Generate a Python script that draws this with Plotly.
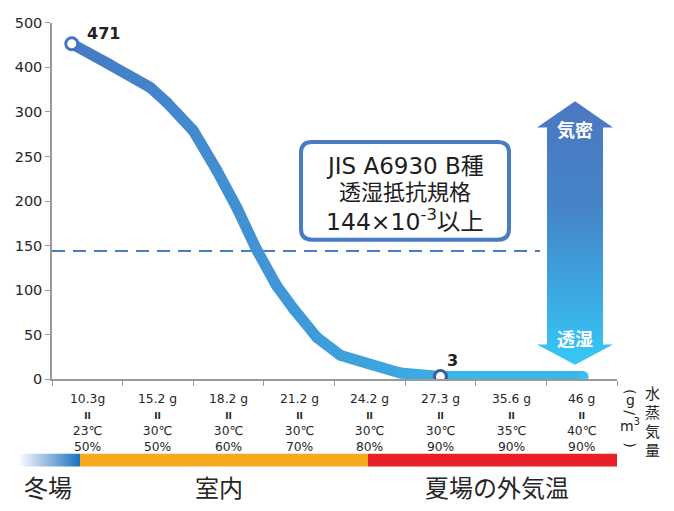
import plotly.graph_objects as go

W, H = 674, 511
OFF = 8  # page body margin: figure is drawn 8px right/down in the photo

# ---------------- data ----------------
cat_gram = ["10.3g", "15.2 g", "18.2 g", "21.2 g", "24.2 g", "27.3 g", "35.6 g", "46 g"]
cat_temp = ["23℃", "30℃", "30℃", "30℃", "30℃", "30℃", "35℃", "40℃"]
cat_rh = ["50%", "50%", "60%", "70%", "80%", "90%", "90%", "90%"]

# curve (x in category units, y = resistance value)
curve_x = [-0.22, 0.32, 0.89, 1.12, 1.50, 1.83, 2.12, 2.40, 2.68, 2.92, 3.25, 3.58, 3.96, 4.43, 5.0, 7.02]
curve_y = [453, 406, 355, 322, 279, 235, 192, 145, 105, 79, 47, 27, 18, 7, 3, 3]

peak_label = "471"
low_label = "3"
standard_value = 144

ytick_labels = [0, 50, 100, 150, 200, 250, 300, 400, 500]

box_lines = ["JIS A6930 B種", "透湿抵抗規格", "144×10<sup>-3</sup>以上"]
arrow_labels = ["気密", "透湿"]
zone_labels = ["冬場", "室内", "夏場の外気温"]
unit_label = ["水", "蒸", "気", "量"]

LAT = "DejaVu Sans, Noto Sans CJK JP, sans-serif"
CJK = "Noto Sans CJK JP, sans-serif"
TXT = "#262626"


def ypos(v):
    # broken scale: linear to 300, half scale above
    return v if v <= 300 else 300 + (v - 300) / 2


def X(px):
    return px - OFF


def Y(py):
    return H - (py - OFF)


def lerp_col(t, c0=(70, 122, 195), c1=(55, 193, 240)):
    return "rgb(%d,%d,%d)" % tuple(round(a + (b - a) * t) for a, b in zip(c0, c1))


fig = go.Figure()

# ---------------- curve (gradient segments) ----------------
x0, xn = curve_x[0], curve_x[-1]
ts = [(x - x0) / (xn - x0) for x in curve_x]
for i in range(len(curve_x) - 1):
    fig.add_trace(go.Scatter(
        x=[curve_x[i], curve_x[i + 1]],
        y=[ypos(curve_y[i]), ypos(curve_y[i + 1])],
        mode="lines", line=dict(color=lerp_col((ts[i] + ts[i + 1]) / 2), width=11),
        hoverinfo="skip", showlegend=False))
fig.add_trace(go.Scatter(
    x=curve_x, y=[ypos(v) for v in curve_y], mode="markers",
    marker=dict(size=11, color=[lerp_col(t) for t in ts], line=dict(width=0)),
    hoverinfo="skip", showlegend=False))

# highlighted points
fig.add_trace(go.Scatter(
    x=[curve_x[0]], y=[ypos(curve_y[0])], mode="markers",
    marker=dict(size=12, color="white", line=dict(color="#4274c0", width=3)),
    hoverinfo="skip", showlegend=False))
i3 = curve_x.index(5.0)
fig.add_trace(go.Scatter(
    x=[curve_x[i3]], y=[ypos(curve_y[i3])], mode="markers",
    marker=dict(size=12, color="white", line=dict(color="#3d5c9e", width=3)),
    hoverinfo="skip", showlegend=False))

annotations = [
    dict(x=curve_x[0], y=ypos(curve_y[0]), xref="x", yref="y", text=peak_label,
         showarrow=False, xshift=32, yshift=10,
         font=dict(size=16, color="#222", family=LAT, weight="bold")),
    dict(x=curve_x[i3], y=ypos(curve_y[i3]), xref="x", yref="y", text=low_label,
         showarrow=False, xshift=12, yshift=16,
         font=dict(size=16, color="#222", family=LAT, weight="bold")),
]

# ---------------- decoration layer (pixel axes x2/y2) ----------------
# double arrow
arrow_px = [(575, 96), (613, 123), (603, 123), (603, 347), (613, 347), (575, 368),
            (537, 347), (547, 347), (547, 123), (537, 123), (575, 96)]
fig.add_trace(go.Scatter(
    x=[X(p[0]) for p in arrow_px], y=[Y(p[1]) for p in arrow_px],
    xaxis="x2", yaxis="y2", mode="lines", line=dict(width=0), fill="toself",
    fillgradient=dict(type="vertical",
                      colorscale=[[0, "#36c8f6"], [0.3, "#3ca5df"], [0.6, "#4584c7"], [1, "#4b78c0"]]),
    hoverinfo="skip", showlegend=False))

# bottom bar: gradient part
bar_top, bar_bot = 460, 473
fig.add_trace(go.Scatter(
    x=[X(18), X(80), X(80), X(18), X(18)],
    y=[Y(bar_top), Y(bar_top), Y(bar_bot), Y(bar_bot), Y(bar_top)],
    xaxis="x2", yaxis="y2", mode="lines", line=dict(width=0), fill="toself",
    fillgradient=dict(type="horizontal",
                      colorscale=[[0, "rgba(255,255,255,1)"], [0.5, "#8fb6de"], [1, "#1673bf"]]),
    hoverinfo="skip", showlegend=False))

shapes = [
    # standard dashed line
    dict(type="line", xref="x", yref="y", x0=-0.5, x1=6.41,
         y0=ypos(standard_value), y1=ypos(standard_value),
         line=dict(color="#4a7cc4", width=2, dash="13px,8px"), layer="below"),
    dict(type="rect", xref="x2", yref="y2", x0=X(80), x1=X(368), y0=Y(bar_bot), y1=Y(bar_top),
         fillcolor="#f6a81e", line=dict(width=0)),
    dict(type="rect", xref="x2", yref="y2", x0=X(368), x1=X(617), y0=Y(bar_bot), y1=Y(bar_top),
         fillcolor="#ea1e28", line=dict(width=0)),
]

# rounded box
bl, br, bt, bb, r = X(301), X(509), Y(138), Y(239), 11
path = (f"M {bl + r},{bt} L {br - r},{bt} Q {br},{bt} {br},{bt - r} "
        f"L {br},{bb + r} Q {br},{bb} {br - r},{bb} "
        f"L {bl + r},{bb} Q {bl},{bb} {bl},{bb + r} "
        f"L {bl},{bt - r} Q {bl},{bt} {bl + r},{bt} Z")
shapes.append(dict(type="path", xref="x2", yref="y2", path=path,
                   fillcolor="white", line=dict(color="#4a7cc4", width=4)))

for txt, py, sz in zip(box_lines, [163, 190, 219], [23, 22, 23.5]):
    annotations.append(dict(x=X(405), y=Y(py), xref="x2", yref="y2", text=txt, showarrow=False,
                            font=dict(size=sz, color="#1e1e1e", family=LAT)))

for txt, py in zip(arrow_labels, [125, 340]):
    annotations.append(dict(x=X(575), y=Y(py), xref="x2", yref="y2", text=txt, showarrow=False,
                            font=dict(size=18, color="white", family=CJK, weight="bold")))

for txt, px in zip(zone_labels, [48, 219, 497]):
    annotations.append(dict(x=X(px), y=Y(494), xref="x2", yref="y2", text=txt, showarrow=False,
                            font=dict(size=24, color=TXT, family=CJK)))

# category labels (4 lines each)
for i in range(len(cat_gram)):
    txt = (f"{cat_gram[i]}<br><span style='font-size:9px'><b>II</b></span>"
           f"<br>{cat_temp[i]}<br>{cat_rh[i]}")
    annotations.append(dict(x=i, y=Y(394), xref="x", yref="y2", yanchor="top", text=txt,
                            showarrow=False, font=dict(size=12.3, color=TXT, family=LAT)))

# unit label (vertical)
for ch, py in zip(unit_label, [397, 416, 436, 455]):
    annotations.append(dict(x=X(652), y=Y(py), xref="x2", yref="y2", text=ch, showarrow=False,
                            font=dict(size=15, color=TXT, family=CJK)))
for ch, py, ang in [("(", 395, 90), ("g", 404, 0), ("/", 417, 90), ("m<sup>3</sup>", 430, 0), (")", 450, 90)]:
    annotations.append(dict(x=X(630), y=Y(py), xref="x2", yref="y2", text=ch, showarrow=False,
                            textangle=ang, font=dict(size=14, color=TXT, family=LAT)))

# ---------------- layout ----------------
fig.update_layout(
    width=W, height=H, autosize=False,
    margin=dict(l=0, r=0, t=0, b=0),
    paper_bgcolor="white", plot_bgcolor="rgba(0,0,0,0)",
    showlegend=False,
    xaxis=dict(domain=[X(52) / W, X(617) / W], range=[-0.5, 7.5],
               tickvals=[i - 0.5 for i in range(len(cat_gram) + 1)],
               showticklabels=False, ticks="outside", ticklen=5, tickcolor="#9a9a9a",
               showline=True, linecolor="#9a9a9a", linewidth=1.5,
               showgrid=False, zeroline=False, fixedrange=True),
    yaxis=dict(domain=[Y(383) / H, Y(15) / H], range=[0, ypos(500)],
               tickvals=[ypos(v) for v in ytick_labels], ticktext=[str(v) for v in ytick_labels],
               ticks="outside", ticklen=5, tickcolor="#9a9a9a",
               showline=True, linecolor="#9a9a9a", linewidth=1.5,
               ticklabeloverflow="allow",
               tickfont=dict(size=14.5, color=TXT, family=LAT),
               showgrid=False, zeroline=False, fixedrange=True),
    xaxis2=dict(domain=[0, 1], range=[0, W], visible=False, anchor="y2", fixedrange=True),
    yaxis2=dict(domain=[0, 1], range=[0, H], visible=False, anchor="x2", fixedrange=True),
    shapes=shapes,
    annotations=annotations,
)

fig.write_html("out.html", config={"displayModeBar": False})
